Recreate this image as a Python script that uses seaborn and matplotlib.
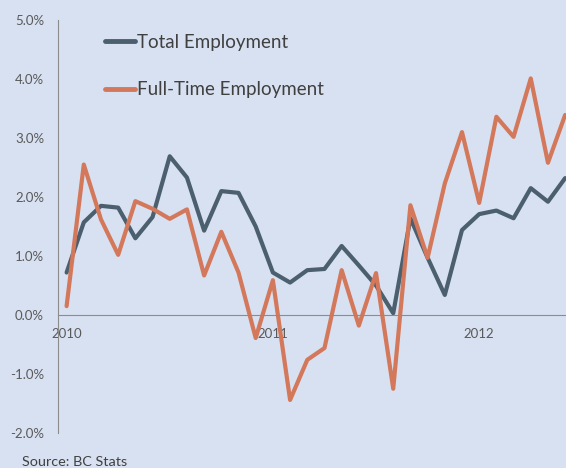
import pandas as pd
import numpy as np
import seaborn as sns
import matplotlib.pyplot as plt
from matplotlib.ticker import FuncFormatter

# monthly growth, Jan 2010 - Jun 2012 (% year over year)
total_employment = [0.72, 1.57, 1.85, 1.82, 1.30, 1.66, 2.69, 2.33, 1.43, 2.10,
                    2.07, 1.50, 0.72, 0.55, 0.76, 0.78, 1.17, 0.84, 0.50, 0.03,
                    1.64, 0.97, 0.34, 1.44, 1.71, 1.77, 1.64, 2.15, 1.92, 2.32]
fulltime_employment = [0.15, 2.55, 1.62, 1.02, 1.93, 1.80, 1.63, 1.79, 0.67, 1.41,
                       0.72, -0.39, 0.59, -1.44, -0.76, -0.56, 0.76, -0.18, 0.71, -1.25,
                       1.86, 0.97, 2.23, 3.10, 1.90, 3.36, 3.02, 4.01, 2.58, 3.39]
year_labels = ["2010", "2011", "2012"]
year_positions = [0, 12, 24]

months = np.arange(len(total_employment))
df = pd.DataFrame({
    "month": np.concatenate([months, months]),
    "value": total_employment + fulltime_employment,
    "series": ["Total Employment"] * len(months) + ["Full-Time Employment"] * len(months),
})

bg = "#d8e1f1"
sns.set_style("white")
plt.rcParams["font.family"] = ["Lato", "DejaVu Sans"]

fig = plt.figure(figsize=(5.66, 4.68), dpi=100, facecolor=bg)
ax = fig.add_axes([58 / 566, 1 - 433 / 468, 1 - 58 / 566, (433 - 20) / 468])
ax.set_facecolor(bg)

sns.lineplot(data=df, x="month", y="value", hue="series",
             palette={"Total Employment": "#4b5f6f", "Full-Time Employment": "#d3785b"},
             linewidth=3, ax=ax)

ax.set_xlim(-0.5, 29.05)
ax.set_ylim(-2.0, 5.0)
ax.set_yticks(np.arange(-2, 5.01, 1))
ax.yaxis.set_major_formatter(FuncFormatter(lambda v, p: f"{v:.1f}%"))

ax.set_xticks(year_positions)
ax.set_xticklabels(year_labels)
ax.set_xticks([11.5, 23.5], minor=True)
ax.tick_params(axis="x", which="major", length=0, pad=9, labelsize=9.5, colors="#595959")
ax.tick_params(axis="x", which="minor", length=4, color="#8c8c8c", direction="out")
ax.tick_params(axis="y", length=4, color="#8c8c8c", labelsize=9.5, labelcolor="#595959", pad=6)

for side in ["top", "right"]:
    ax.spines[side].set_visible(False)
ax.spines["bottom"].set_position(("data", 0))
ax.spines["bottom"].set_color("#8c8c8c")
ax.spines["left"].set_color("#8c8c8c")
ax.set_xlabel("")
ax.set_ylabel("")

leg = ax.legend(loc="upper left", bbox_to_anchor=(0.059, 1.007), frameon=False,
                handlelength=1.6, handletextpad=0.12, labelspacing=1.62,
                fontsize=13.5)
for t in leg.get_texts():
    t.set_color("#404040")
for h in leg.get_lines():
    h.set_linewidth(3.5)

fig.text(22 / 566, 1 - 462 / 468, "Source: BC Stats", fontsize=10.4, color="#404040", va="center")

fig.savefig("out.png", dpi=100, facecolor=bg)
